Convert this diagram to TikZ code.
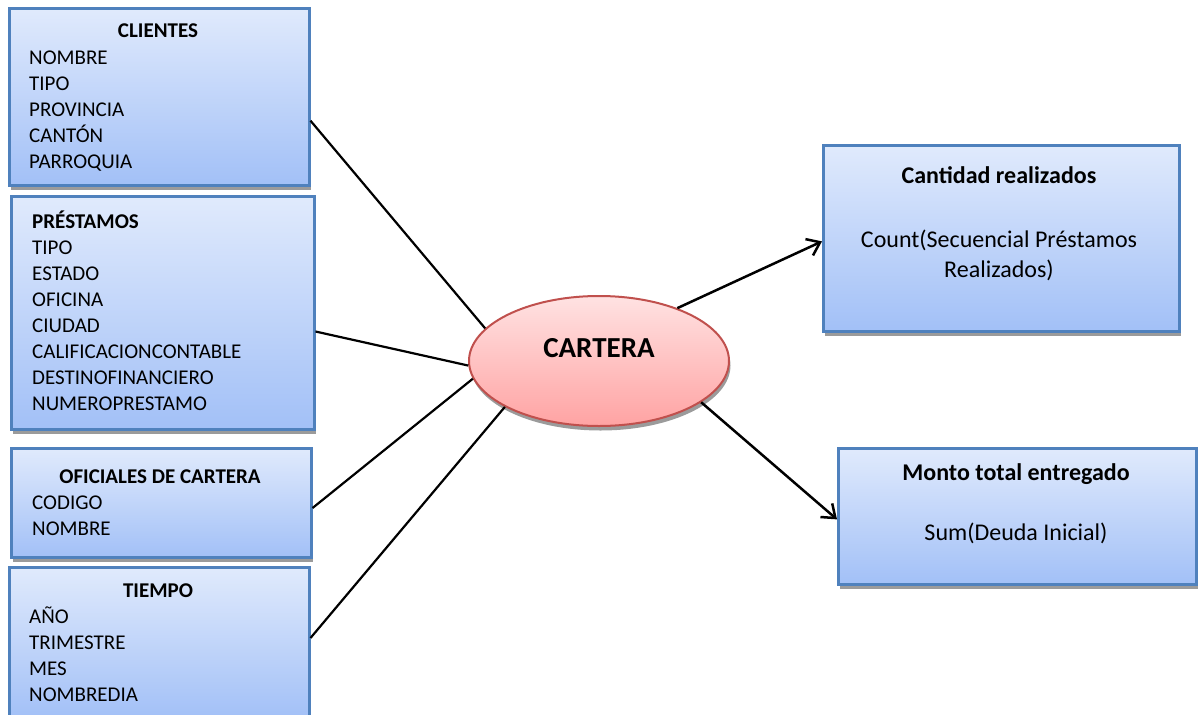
\documentclass[tikz,border=0pt]{standalone}
\usepackage{fontspec}
\setmainfont{Carlito}
\usetikzlibrary{arrows.meta,shapes.geometric,shadows}

\definecolor{boxtop}{RGB}{224,234,252}
\definecolor{boxbot}{RGB}{162,192,247}
\definecolor{boxline}{RGB}{79,129,189}
\definecolor{elltop}{RGB}{255,226,226}
\definecolor{ellbot}{RGB}{255,163,163}
\definecolor{ellline}{RGB}{192,80,77}
\definecolor{shadowgray}{RGB}{155,155,155}

\tikzset{
  dimbox/.style={draw=boxline, line width=2.5pt, top color=boxtop, bottom color=boxbot,
    anchor=north west, inner sep=0pt,
    drop shadow={shadow xshift=1.5pt, shadow yshift=-4.5pt, fill=shadowgray, opacity=1}},
  factell/.style={ellipse, draw=ellline, line width=2pt, top color=elltop, bottom color=ellbot,
    inner sep=0pt, minimum width=260pt, minimum height=130pt,
    drop shadow={shadow xshift=1.5pt, shadow yshift=-4.5pt, fill=shadowgray, opacity=1}},
  txt/.style={inner sep=0pt, font=\fontsize{21pt}{26pt}\selectfont},
  ttl/.style={inner sep=0pt, font=\fontsize{21pt}{26pt}\selectfont\bfseries},
  mtxt/.style={inner sep=0pt, font=\fontsize{24pt}{30pt}\selectfont},
  mttl/.style={inner sep=0pt, font=\fontsize{24pt}{30pt}\selectfont\bfseries},
  conn/.style={line width=2.2pt, black},
  arr/.style={conn, line width=2.5pt, -{Straight Barb[length=12pt, width=18pt, line width=2.5pt]}}
}

\begin{document}
\begin{tikzpicture}[x=1pt, y=-1pt]
  \clip (0,0) rectangle (1200,715);

  % dimension tables
  \node[dimbox, minimum width=300pt, minimum height=177pt] (cl) at (8,7) {};
  \node[dimbox, minimum width=303pt, minimum height=233pt] (pr) at (10,195) {};
  \node[dimbox, minimum width=300pt, minimum height=109pt] (of) at (10,447) {};
  \node[dimbox, minimum width=300pt, minimum height=152pt] (ti) at (8,566) {};

  % measures
  \node[dimbox, minimum width=356pt, minimum height=186pt] (cq) at (822,144) {};
  \node[dimbox, minimum width=358pt, minimum height=136pt] (mt) at (837,447) {};

  % fact
  \node[factell] (cart) at (599,361) {};
  \node[inner sep=0pt, font=\fontsize{29pt}{34pt}\selectfont\bfseries, anchor=base] (cart-t) at (599,357) {CARTERA};

  % CLIENTES
  \node[ttl, anchor=base] (cl-t) at (158,37) {CLIENTES};
  \foreach \s [count=\i] in {NOMBRE,TIPO,PROVINCIA,CANTÓN,PARROQUIA}
    \node[txt, anchor=base west] (cl-\i) at (29,38+26*\i) {\s};

  % PRÉSTAMOS
  \node[ttl, anchor=base west] (pr-t) at (32,228) {PRÉSTAMOS};
  \foreach \s [count=\i] in {TIPO,ESTADO,OFICINA,CIUDAD,CALIFICACIONCONTABLE,DESTINOFINANCIERO,NUMEROPRESTAMO}
    \node[txt, anchor=base west] (pr-\i) at (32,228+26*\i) {\s};

  % OFICIALES DE CARTERA
  \node[ttl, anchor=base] (of-t) at (160,483) {OFICIALES DE CARTERA};
  \foreach \s [count=\i] in {CODIGO,NOMBRE}
    \node[txt, anchor=base west] (of-\i) at (32,483+26*\i) {\s};

  % TIEMPO
  \node[ttl, anchor=base] (ti-t) at (158,597) {TIEMPO};
  \foreach \s [count=\i] in {AÑO,TRIMESTRE,MES,NOMBREDIA}
    \node[txt, anchor=base west] (ti-\i) at (29,597+26*\i) {\s};

  % measure texts
  \node[mttl, anchor=base] (cq-t) at (999,183) {Cantidad realizados};
  \node[mtxt, anchor=base] (cq-1) at (999,247) {Count(Secuencial Préstamos};
  \node[mtxt, anchor=base] (cq-2) at (999,277) {Realizados)};
  \node[mttl, anchor=base] (mt-t) at (1016,480) {Monto total entregado};
  \node[mtxt, anchor=base] (mt-1) at (1016,540) {Sum(Deuda Inicial)};

  % connectors
  \draw[conn] (cl.-9.3) -- (cart.164.8);
  \draw[conn] (pr.-7) -- (cart.182.7);
  \draw[conn] (of.-2.1) -- (cart.188.4);
  \draw[conn] (ti.2.3) -- (cart.206.3);
  \draw[arr] (cart.34.9) -- (cq.181.3);
  \draw[arr] (cart.-22) -- (mt.181.3);
\end{tikzpicture}
\end{document}
